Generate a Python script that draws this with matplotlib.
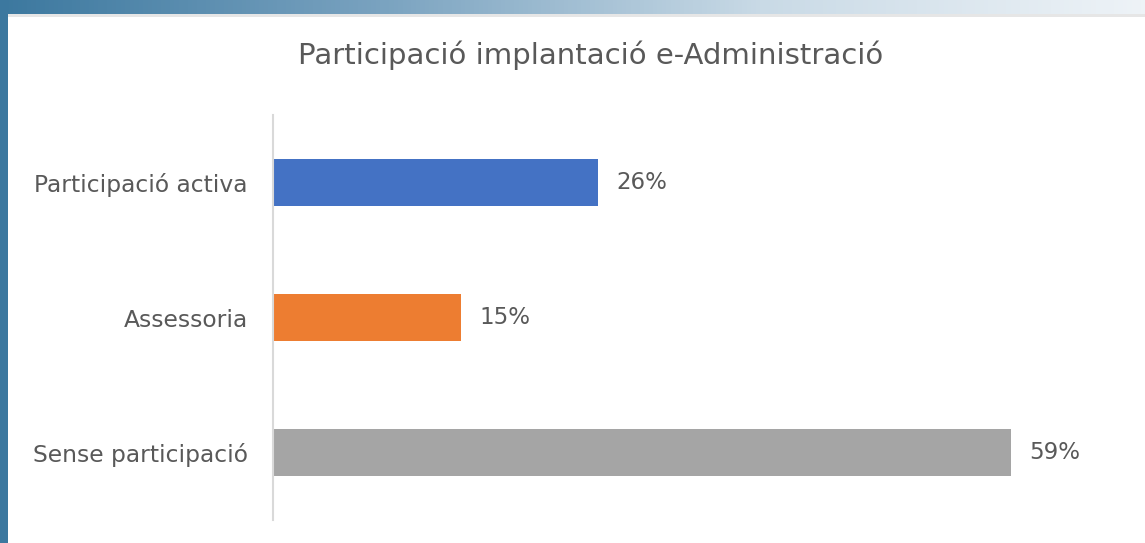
import matplotlib
matplotlib.use("Agg")
import matplotlib.pyplot as plt
import numpy as np
from matplotlib.colors import LinearSegmentedColormap

categories = ["Participació activa", "Assessoria", "Sense participació"]
values = [26, 15, 59]
labels = ["26%", "15%", "59%"]
colors = ["#4472c4", "#ed7d31", "#a5a5a5"]
title = "Participació implantació e-Administració"

W, H = 1145, 543
fig = plt.figure(figsize=(W / 100, H / 100), dpi=100)
fig.patch.set_facecolor("white")
FONT = "DejaVu Sans"

# top gradient strip
gax = fig.add_axes([0, 1 - 14 / H, 1, 14 / H])
grad = np.linspace(0, 1, 256)[None, :]
cmap = LinearSegmentedColormap.from_list("g", ["#3c789f", "#7aa3c0", "#c9dae6", "#eef3f7"])
gax.imshow(grad, aspect="auto", cmap=cmap, extent=[0, 1, 0, 1])
gax.axis("off")
# thin shadow line below strip
sax = fig.add_axes([8 / W, 1 - 17 / H, 1 - 8 / W, 3 / H])
sax.set_facecolor("#e6e6e6")
sax.set_xticks([]); sax.set_yticks([])
for s in sax.spines.values():
    s.set_visible(False)
# left blue border
lax = fig.add_axes([0, 0, 8 / W, 1 - 14 / H])
lax.set_facecolor("#3c789f")
lax.set_xticks([]); lax.set_yticks([])
for s in lax.spines.values():
    s.set_visible(False)

left, right, top, bottom = 273, 1100, 115, 520
ax = fig.add_axes([left / W, 1 - bottom / H, (right - left) / W, (bottom - top) / H])
y = np.arange(len(categories))
ax.barh(y, values, height=0.35, color=colors)
ax.set_xlim(0, (right - left) / 12.5)
ax.set_ylim(2.5, -0.5)
ax.set_yticks(y)
ax.set_yticklabels(categories, fontsize=16.8, color="#595959", family=FONT)
ax.tick_params(axis="y", length=0, pad=18)
ax.set_xticks([])
for s in ["top", "right", "bottom"]:
    ax.spines[s].set_visible(False)
ax.spines["left"].set_color("#d9d9d9")
ax.spines["left"].set_linewidth(1.5)
for yi, v, lab in zip(y, values, labels):
    ax.text(v + 1.5, yi, lab, va="center", ha="left", fontsize=16.5, color="#595959", family=FONT)

fig.text(591 / W, 1 - 55 / H, title, ha="center", va="center", fontsize=21, color="#595959", family=FONT)

fig.savefig("out.png", dpi=100)
